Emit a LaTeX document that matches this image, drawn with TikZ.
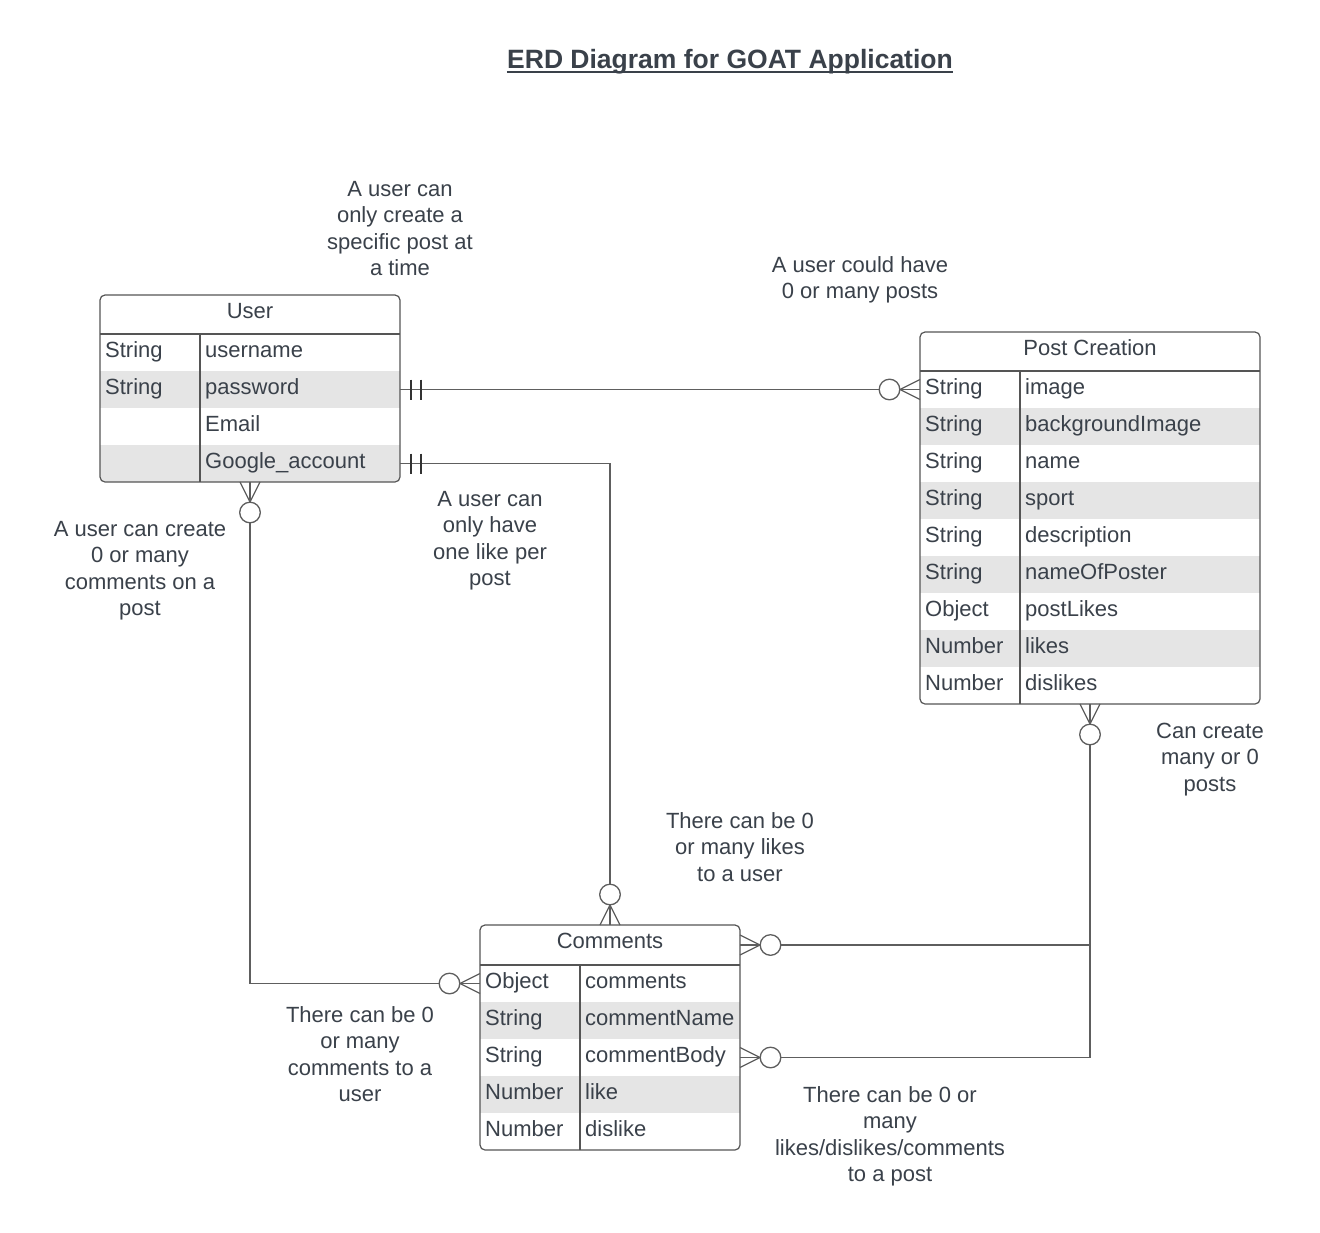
\documentclass[tikz,border=0pt]{standalone}
\usepackage{fontspec}
\setmainfont{Liberation Sans}
\usetikzlibrary{calc}
\definecolor{txt}{HTML}{3A414A}
\definecolor{linec}{HTML}{5E5E5E}
\definecolor{bordc}{HTML}{555555}
\definecolor{barc}{HTML}{333333}
\definecolor{shadec}{HTML}{E5E5E5}
\tikzset{
 conn/.style={draw=linec, line width=1.3pt},
 barline/.style={draw=barc, line width=1.1pt},
 sepline/.style={draw=bordc, line width=1.1pt},
 cell/.style={inner sep=0pt, font=\fontsize{22}{26.5}\selectfont, text=txt},
 lbl/.style={inner sep=0pt, align=center, anchor=north, font=\fontsize{22}{26.5}\selectfont, text=txt},
 rowbox/.style={inner sep=0pt, outer sep=0pt, anchor=north west},
 tabbox/.style={draw=bordc, line width=1.2pt, rounded corners=5pt, inner sep=0pt, outer sep=0pt, anchor=north west},
}
% #1 name #2 x #3 y #4 width #5 divider offset #6 header height #7 rows #8 title #9 rows list
\newcommand\erdtable[9]{%
 \pgfmathsetmacro\tabh{#6+#7*37}
 \begin{scope}
  \clip[rounded corners=5pt] (#2,#3) rectangle ++(#4,\tabh);
  \foreach[count=\i] \ty/\fld in {#9}{
    \pgfmathsetmacro\ry{#3+#6+(\i-1)*37}
    \ifodd\i\else\fill[shadec] (#2,\ry) rectangle ++(#4,37);\fi
  }
 \end{scope}
 \node[rowbox, minimum width=#4, minimum height=#6] (#1-h) at (#2,#3) {};
 \node[cell, anchor=base] (#1-title) at ($(#1-h.north)+(0,23)$) {#8};
 \foreach[count=\i] \ty/\fld in {#9}{
   \pgfmathsetmacro\ry{#3+#6+(\i-1)*37}
   \node[rowbox, minimum width=#4, minimum height=37] (#1-r\i) at (#2,\ry) {};
   \node[cell, anchor=base west] (#1-t\i) at (#2+5,\ry+23) {\ty};
   \node[cell, anchor=base west] (#1-f\i) at (#2+#5+5,\ry+23) {\fld};
 }
 \draw[sepline] (#2,#3+#6) -- ++(#4,0);
 \draw[sepline] (#2+#5,#3+#6) -- (#2+#5,#3+\tabh);
 \node[tabbox, minimum width=#4, minimum height=\tabh] (#1) at (#2,#3) {};
}
% zero or many end: #1 point on box edge, (#2,#3) direction into the box
\newcommand\zeromany[3]{%
 \draw[conn] ($(#1)+({10*(#3)},{10*(#2)})$) -- ($(#1)+({-20*(#2)},{-20*(#3)})$) -- ($(#1)+({-10*(#3)},{-10*(#2)})$);
 \draw[conn] (#1) -- ($(#1)+({-20*(#2)},{-20*(#3)})$);
 \draw[conn, fill=white] ($(#1)+({-30.5*(#2)},{-30.5*(#3)})$) circle[radius=10.3pt];
}
% one and only one end
\newcommand\oneone[3]{%
 \foreach \k in {11,21}{
  \draw[barline] ($(#1)+({-\k*(#2)+10*(#3)},{-\k*(#3)+10*(#2)})$) -- ($(#1)+({-\k*(#2)-10*(#3)},{-\k*(#3)-10*(#2)})$);
 }
}
\begin{document}
\begin{tikzpicture}[x=1pt,y=-1pt]
\useasboundingbox (0,0) rectangle (1320,1232);
\fill[white] (0,0) rectangle (1320,1232);

\node[inner sep=0pt, anchor=base, font=\fontsize{26.5}{30}\selectfont\bfseries, text=txt] (title) at (730,68.5) {ERD Diagram for GOAT Application};
\draw[txt, line width=2pt] ([yshift=-3.8pt]title.base west) -- ([yshift=-3.8pt]title.base east);

\erdtable{user}{100}{295}{300}{100}{39}{4}{User}{String/username, String/password, /Email, /Google\_account}
\erdtable{post}{920}{332}{340}{100}{39}{9}{Post Creation}{String/image, String/backgroundImage, String/name, String/sport, String/description, String/nameOfPoster, Object/postLikes, Number/likes, Number/dislikes}
\erdtable{comments}{480}{925}{260}{100}{40}{5}{Comments}{Object/comments, String/commentName, String/commentBody, Number/like, Number/dislike}

% connectors
\draw[conn] (user-r2.east) -- (post-r1.west);
\draw[conn] (user-r4.east) -| (comments.north);
\draw[conn] (user.south) |- (comments-r1.west);
\draw[conn] (post.south) |- (comments-h.east);
\draw[conn] (post.south) |- (comments-r3.east);

\oneone{user-r2.east}{-1}{0}
\zeromany{post-r1.west}{1}{0}
\oneone{user-r4.east}{-1}{0}
\zeromany{comments.north}{0}{1}
\zeromany{user.south}{0}{-1}
\zeromany{comments-r1.west}{1}{0}
\zeromany{post.south}{0}{-1}
\zeromany{comments-h.east}{-1}{0}
\zeromany{comments-r3.east}{-1}{0}

% labels
\node[lbl] (l1) at (400,196-18.55) {\strut A user can\\only create a\\specific post at\\a time};
\node[lbl] (l2) at (860,272-18.55) {\strut A user could have\\0 or many posts};
\node[lbl] (l3) at (140,536-18.55) {\strut A user can create\\0 or many\\comments on a\\post};
\node[lbl] (l4) at (490,506-18.55) {\strut A user can\\only have\\one like per\\post};
\node[lbl] (l5) at (1210,738-18.55) {\strut Can create\\many or 0\\posts};
\node[lbl] (l6) at (740,828-18.55) {\strut There can be 0\\or many likes\\to a user};
\node[lbl] (l7) at (360,1022-18.55) {\strut There can be 0\\or many\\comments to a\\user};
\node[lbl] (l8) at (890,1102-18.55) {\strut There can be 0 or\\many\\likes/dislikes/comments\\to a post};
\end{tikzpicture}
\end{document}
